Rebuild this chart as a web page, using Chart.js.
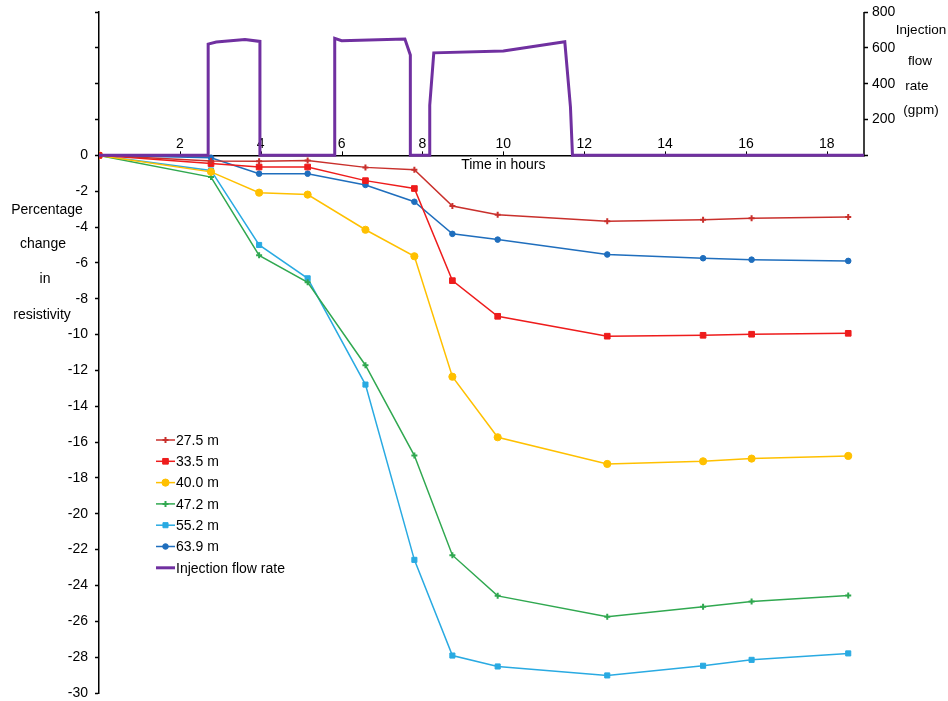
<!DOCTYPE html>
<html>
<head>
<meta charset="utf-8">
<script src="https://cdn.jsdelivr.net/npm/chart.js@4/dist/chart.umd.min.js"></script>
<style>
html,body{margin:0;padding:0;background:#fff;}
#wrap{position:relative;width:948px;height:701px;}
</style>
</head>
<body>
<div id="wrap"><canvas id="c" width="948" height="701"></canvas></div>
<script>
// ---- data ----
const timeHours = [0, 2.77, 3.96, 5.16, 6.59, 7.80, 8.74, 9.86, 12.57, 14.94, 16.14, 18.53];
const seriesNames = ['27.5 m', '33.5 m', '40.0 m', '47.2 m', '55.2 m', '63.9 m'];
const res275 = [0, -0.32, -0.33, -0.28, -0.67, -0.80, -2.83, -3.31, -3.67, -3.59, -3.51, -3.44];
const res335 = [0, -0.46, -0.65, -0.65, -1.41, -1.85, -6.99, -8.98, -10.09, -10.04, -9.98, -9.93];
const res400 = [0, -0.92, -2.08, -2.19, -4.15, -5.63, -12.35, -15.73, -17.22, -17.07, -16.92, -16.77];
const res472 = [0, -1.21, -5.58, -7.08, -11.71, -16.75, -22.31, -24.58, -25.75, -25.19, -24.89, -24.56];
const res552 = [0, -0.84, -5.00, -6.86, -12.79, -22.57, -27.91, -28.52, -29.02, -28.48, -28.15, -27.79];
const res639 = [0, -0.13, -1.02, -1.02, -1.65, -2.59, -4.38, -4.70, -5.53, -5.74, -5.82, -5.89];
const flowName = 'Injection flow rate';
const flowTime = [0, 2.70, 2.70, 2.90, 3.61, 3.98, 3.98, 5.83, 5.83, 6.00, 7.565, 7.70, 7.70, 8.18, 8.18, 8.28, 10.0, 11.52, 11.66, 11.71, 18.92];
const flowRate = [0, 0, 621, 632, 647, 636, 0, 0, 653, 640, 649, 560, 0, 0, 280, 572, 583, 634, 270, 0, 0];
const xTickValues = [2, 4, 6, 8, 10, 12, 14, 16, 18];
const xTitle = 'Time in hours';
const yTitleLines = ['Percentage', 'change', 'in', 'resistivity'];
const y2TitleLines = ['Injection', 'flow', 'rate', '(gpm)'];

// ---- styles ----
const FONT = "'Liberation Sans', Arial, sans-serif";
const seriesValues = [res275, res335, res400, res472, res552, res639];
const seriesStyles = [
  {color: '#C9302C', point: 'cross', r: 3, bw: 2},
  {color: '#EE1C1C', point: 'rect', r: 4, bw: 1},
  {color: '#FFC000', point: 'circle', r: 3.6, bw: 1},
  {color: '#30A850', point: 'cross', r: 3, bw: 2},
  {color: '#29AAE2', point: 'rect', r: 3.6, bw: 1},
  {color: '#1F6EBD', point: 'circle', r: 2.8, bw: 1}
];
const flowColor = '#7030A0';

const datasets = seriesNames.map((name, i) => ({
  label: name,
  data: timeHours.map((t, k) => ({x: t, y: seriesValues[i][k]})),
  yAxisID: 'y',
  borderColor: seriesStyles[i].color,
  backgroundColor: seriesStyles[i].color,
  borderWidth: 1.5,
  pointStyle: seriesStyles[i].point,
  pointRadius: seriesStyles[i].r,
  pointBorderWidth: seriesStyles[i].bw,
  pointBackgroundColor: seriesStyles[i].color,
  pointBorderColor: seriesStyles[i].color,
  tension: 0,
  order: 2
}));
datasets.push({
  label: flowName,
  data: flowTime.map((t, k) => ({x: t, y: flowRate[k]})),
  yAxisID: 'y2',
  borderColor: flowColor,
  backgroundColor: flowColor,
  borderWidth: 3,
  pointRadius: 0,
  tension: 0,
  order: 1
});

function drawMarker(ctx, style, r, x, y, color, bw) {
  ctx.save();
  ctx.fillStyle = color; ctx.strokeStyle = color; ctx.lineWidth = bw;
  ctx.beginPath();
  if (style === 'circle') {
    ctx.arc(x, y, r, 0, Math.PI * 2); ctx.fill(); ctx.stroke();
  } else if (style === 'rect') {
    const s = r * Math.SQRT1_2;
    ctx.rect(x - s, y - s, 2 * s, 2 * s); ctx.fill(); ctx.stroke();
  } else {
    ctx.moveTo(x - r, y); ctx.lineTo(x + r, y);
    ctx.moveTo(x, y - r); ctx.lineTo(x, y + r); ctx.stroke();
  }
  ctx.restore();
}

const overlay = {
  id: 'overlay',
  beforeDatasetsDraw(chart) {
    const ctx = chart.ctx;
    const xs = chart.scales.x, ys = chart.scales.y, y2 = chart.scales.y2;
    ctx.save();
    ctx.strokeStyle = '#000';
    ctx.lineWidth = 1.5;
    const rx = y2.left;
    ctx.beginPath();
    ctx.moveTo(rx, y2.getPixelForValue(0) + 0.75);
    ctx.lineTo(rx, y2.getPixelForValue(800));
    ctx.stroke();
    const y0 = ys.getPixelForValue(0);
    ctx.lineWidth = 1;
    xTickValues.forEach(v => {
      const px = Math.round(xs.getPixelForValue(v)) + 0.5;
      ctx.beginPath(); ctx.moveTo(px, y0); ctx.lineTo(px, y0 - 4); ctx.stroke();
    });
    ctx.restore();
  },
  afterDraw(chart) {
    const ctx = chart.ctx;
    const xs = chart.scales.x, ys = chart.scales.y;
    ctx.save();
    ctx.fillStyle = '#000';
    ctx.font = '14px ' + FONT;
    ctx.textAlign = 'center';
    ctx.textBaseline = 'middle';
    // x title under axis
    ctx.fillText(xTitle, xs.getPixelForValue(10), ys.getPixelForValue(0) + 10);
    // left title
    const lx = [47, 43, 45, 42], ly = [210, 244, 279, 315];
    yTitleLines.forEach((t, i) => ctx.fillText(t, lx[i], ly[i]));
    // right title
    const rx = [921, 920, 917, 921], ry = [30, 61, 86, 110];
    ctx.font = '13.5px ' + FONT;
    y2TitleLines.forEach((t, i) => ctx.fillText(t, rx[i], ry[i]));
    // legend
    ctx.font = '14px ' + FONT;
    ctx.textAlign = 'left';
    const names = seriesNames.concat([flowName]);
    names.forEach((n, i) => {
      const yy = 440 + i * 21.3;
      ctx.save();
      if (i < seriesNames.length) {
        const st = seriesStyles[i];
        ctx.strokeStyle = st.color; ctx.lineWidth = 1.5;
        ctx.beginPath(); ctx.moveTo(156, yy); ctx.lineTo(175, yy); ctx.stroke();
        drawMarker(ctx, st.point, st.r, 165.5, yy, st.color, st.bw);
      } else {
        ctx.strokeStyle = flowColor; ctx.lineWidth = 3;
        ctx.beginPath(); ctx.moveTo(156, yy); ctx.lineTo(175, yy); ctx.stroke();
      }
      ctx.restore();
      ctx.fillText(n, 176, yy + 1);
    });
    ctx.restore();
  }
};

Chart.defaults.font.family = FONT;
Chart.defaults.font.size = 14;
Chart.defaults.color = '#000';

function fixV(width) {
  return s => { s.width = width; s.paddingTop = 0; s.paddingBottom = 0; };
}

new Chart(document.getElementById('c'), {
  type: 'line',
  data: {datasets},
  plugins: [overlay],
  options: {
    responsive: false,
    animation: false,
    layout: {padding: {top: 12, bottom: 8, left: 0, right: 0}},
    plugins: {legend: {display: false}, tooltip: {enabled: false}},
    scales: {
      x: {
        type: 'linear',
        position: {y: 0},
        min: 0, max: 18.92,
        grid: {drawOnChartArea: false, drawTicks: false},
        border: {display: true, color: '#000', width: 1.5},
        ticks: {
          stepSize: 2, includeBounds: false, autoSkip: false, maxRotation: 0, padding: -20,
          color: '#000', font: {size: 14},
          callback: v => (v > 0 && v % 2 === 0) ? String(v) : ''
        }
      },
      y: {
        type: 'linear', position: 'left',
        min: -30, max: 8,
        afterFit: fixV(99),
        grid: {drawOnChartArea: false, drawTicks: true, tickLength: 4, tickColor: '#000', tickWidth: 1.5},
        border: {display: true, color: '#000', width: 1.5},
        ticks: {
          stepSize: 2, autoSkip: false, padding: 7, color: '#000', font: {size: 14},
          callback: v => v <= 0 ? String(v) : ''
        }
      },
      y2: {
        type: 'linear', position: 'right',
        min: -3000, max: 800,
        afterFit: fixV(84),
        grid: {
          drawOnChartArea: false, drawTicks: true, tickLength: 4, tickWidth: 1.5,
          tickColor: c => (c.tick && c.tick.value >= 0) ? '#000' : 'rgba(0,0,0,0)'
        },
        border: {display: false},
        ticks: {
          stepSize: 200, autoSkip: false, padding: 4, color: '#000', font: {size: 14},
          callback: v => v > 0 ? String(v) : ''
        }
      }
    }
  }
});
</script>
</body>
</html>
